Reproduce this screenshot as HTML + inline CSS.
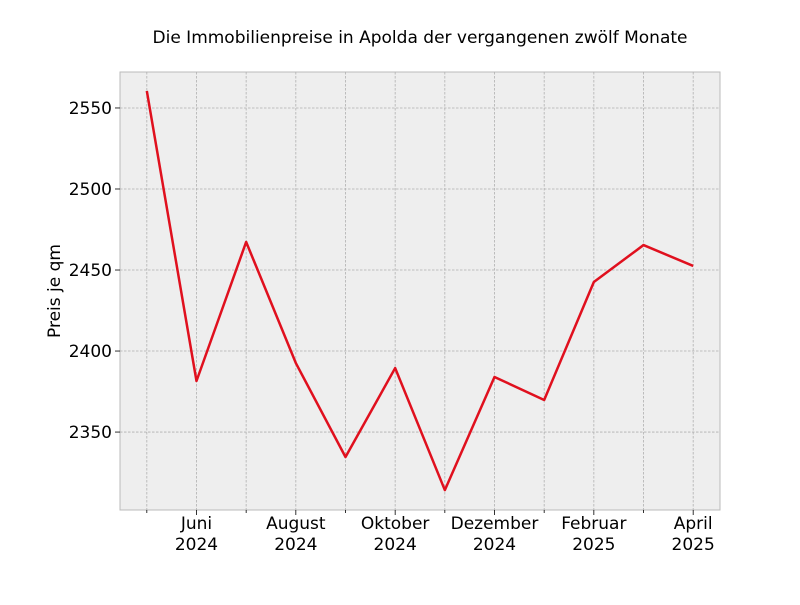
<!DOCTYPE html>
<html><head><meta charset="utf-8"><style>
body{margin:0;background:#fff;font-family:"Liberation Sans","DejaVu Sans",sans-serif}
svg text{font-family:"DejaVu Sans","Liberation Sans",sans-serif}
</style></head><body>
<svg id="chart" width="800" height="600" viewBox="0 0 800 600" xmlns="http://www.w3.org/2000/svg">
<rect width="800" height="600" fill="#fff"/>
<text x="420" y="43" font-size="17" text-anchor="middle" fill="#000">Die Immobilienpreise in Apolda der vergangenen zwölf Monate</text>
<rect x="120" y="72" width="600" height="438" fill="#eeeeee" stroke="#bbbbbb" stroke-width="1"/>
<g id="grid"></g><g id="axes"></g><g id="series"></g>
<text transform="translate(60,291) rotate(-90)" font-size="17" text-anchor="middle" fill="#000">Preis je qm</text>
</svg>
<script>
const months=["Mai 2024","Juni 2024","Juli 2024","August 2024","September 2024","Oktober 2024","November 2024","Dezember 2024","Januar 2025","Februar 2025","März 2025","April 2025"];
const prices=[2560.5,2381.5,2467.3,2392.6,2334.6,2389.5,2314.2,2384,2369.8,2442.6,2465.4,2452.5];
const yTicks=[2350,2400,2450,2500,2550];
const xLabelIdx=[1,3,5,7,9,11];
const xLabels=[["Juni","2024"],["August","2024"],["Oktober","2024"],["Dezember","2024"],["Februar","2025"],["April","2025"]];
const NS="http://www.w3.org/2000/svg";
const L=120,R=720,T=72,B=510;
const xMin=-0.54,xMax=11.54,yMin=2301.9,yMax=2572.2;
const xs=i=>L+(i-xMin)/(xMax-xMin)*(R-L);
const ys=v=>B-(v-yMin)/(yMax-yMin)*(B-T);
function mk(tag,attrs,parent){const e=document.createElementNS(NS,tag);for(const k in attrs)e.setAttribute(k,attrs[k]);parent.appendChild(e);return e;}
const grid=document.getElementById('grid'),axes=document.getElementById('axes'),series=document.getElementById('series');
months.forEach((m,i)=>{
 const x=xs(i);
 const g=mk('line',{x1:x,x2:x,y1:T,y2:B,stroke:'#b0b0b0','stroke-width':0.8,'stroke-dasharray':'2.5,1.5'},grid);
 
 
 const t=mk('line',{x1:x,x2:x,y1:B,y2:B+(xLabelIdx.includes(i)?5:3),stroke:'#000','stroke-width':0.8},axes);
 
 
});
xLabelIdx.forEach((idx,j)=>{
 const tx=mk('text',{x:xs(idx),y:529,'font-size':17,'text-anchor':'middle',fill:'#000'},axes);
 
 
 const a=mk('tspan',{x:xs(idx),dy:0},tx);a.textContent=xLabels[j][0];
 const b=mk('tspan',{x:xs(idx),dy:21},tx);b.textContent=xLabels[j][1];
});
yTicks.forEach(v=>{
 const y=ys(v);
 const g=mk('line',{x1:L,x2:R,y1:y,y2:y,stroke:'#b0b0b0','stroke-width':0.8,'stroke-dasharray':'2.5,1.5'},grid);
 
 
 const t=mk('line',{x1:L-5,x2:L,y1:y,y2:y,stroke:'#000','stroke-width':0.8},axes);
 
 
 const tx=mk('text',{x:L-8,y:y+6,'font-size':17,'text-anchor':'end',fill:'#000'},axes);
 
 
 tx.textContent=v;
});
const pl=mk('polyline',{points:prices.map((v,i)=>xs(i)+','+ys(v)).join(' '),fill:'none',stroke:'#e0101e','stroke-width':2.5,'stroke-linejoin':'round'},series);


</script>
</body></html>
